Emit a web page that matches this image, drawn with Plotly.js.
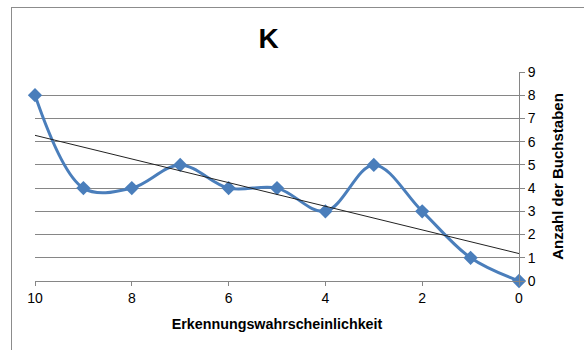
<!DOCTYPE html>
<html><head><meta charset="utf-8">
<script src="https://cdn.plot.ly/plotly-3.0.1.min.js"></script>
<style>body{margin:0;background:#fff}#wrap{position:relative;width:584px;height:350px;overflow:hidden}
#frame{position:absolute;left:11px;top:7px;width:700px;height:500px;border:1px solid #8c8c8c;pointer-events:none}</style>
</head><body><div id="wrap"><div id="chart" style="width:584px;height:350px"></div><div id="frame"></div></div>
<script>
const probability = [10, 9, 8, 7, 6, 5, 4, 3, 2, 1, 0];
const letterCount = [8, 4, 4, 5, 4, 4, 3, 5, 3, 1, 0];
const xTicks = [10, 8, 6, 4, 2, 0];
const yTicks = [0,1,2,3,4,5,6,7,8,9];

// linear trendline (least squares) from the data
const n = probability.length;
const mx = probability.reduce((a,b)=>a+b,0)/n;
const my = letterCount.reduce((a,b)=>a+b,0)/n;
let sxy=0, sxx=0;
for (let i=0;i<n;i++){ sxy+=(probability[i]-mx)*(letterCount[i]-my); sxx+=(probability[i]-mx)**2; }
const slope = sxy/sxx, icpt = my - slope*mx;
const trendX = [Math.max(...probability), Math.min(...probability)];
const trendY = trendX.map(x => icpt + slope*x);

const font = {family:'Liberation Sans, Arial, sans-serif', color:'#000'};
Plotly.newPlot('chart', [
  {x: probability, y: letterCount, type:'scatter', mode:'lines+markers',
   line:{shape:'spline', smoothing:1, color:'#4a7ebb', width:3},
   marker:{symbol:'diamond', size:11, color:'#4a7ebb'}, cliponaxis:false, showlegend:false},
  {x: trendX, y: trendY, type:'scatter', mode:'lines', line:{color:'#222', width:1}, showlegend:false}
], {
  width:584, height:350,
  margin:{l:35, r:65, t:72, b:69},
  paper_bgcolor:'#fff', plot_bgcolor:'#fff',
  font: Object.assign({size:14}, font),
  title:{text:'<b>K</b>', font:Object.assign({size:28}, font), x:0.46, xanchor:'center', y:0.89, yanchor:'middle'},
  xaxis:{range:[10,0], tickvals:xTicks, ticktext:xTicks.map(String), showgrid:false, zeroline:false,
    showline:true, linecolor:'#868686', linewidth:1, ticks:'outside', ticklen:4, tickcolor:'#868686',
    tickfont:Object.assign({size:14}, font),
    title:{text:'<b>Erkennungswahrscheinlichkeit</b>', font:Object.assign({size:14.3}, font), standoff:14}},
  yaxis:{side:'right', range:[0,9], tickvals:yTicks, ticktext:yTicks.map(String), showgrid:true, gridcolor:'#868686', gridwidth:1,
    zeroline:false, showline:true, linecolor:'#868686', linewidth:1, ticks:'outside', ticklen:5, tickcolor:'#868686',
    tickfont:Object.assign({size:14}, font),
    title:{text:'<b>Anzahl der Buchstaben</b>', font:Object.assign({size:15}, font), standoff:17}}
}, {staticPlot:true});
</script></body></html>
